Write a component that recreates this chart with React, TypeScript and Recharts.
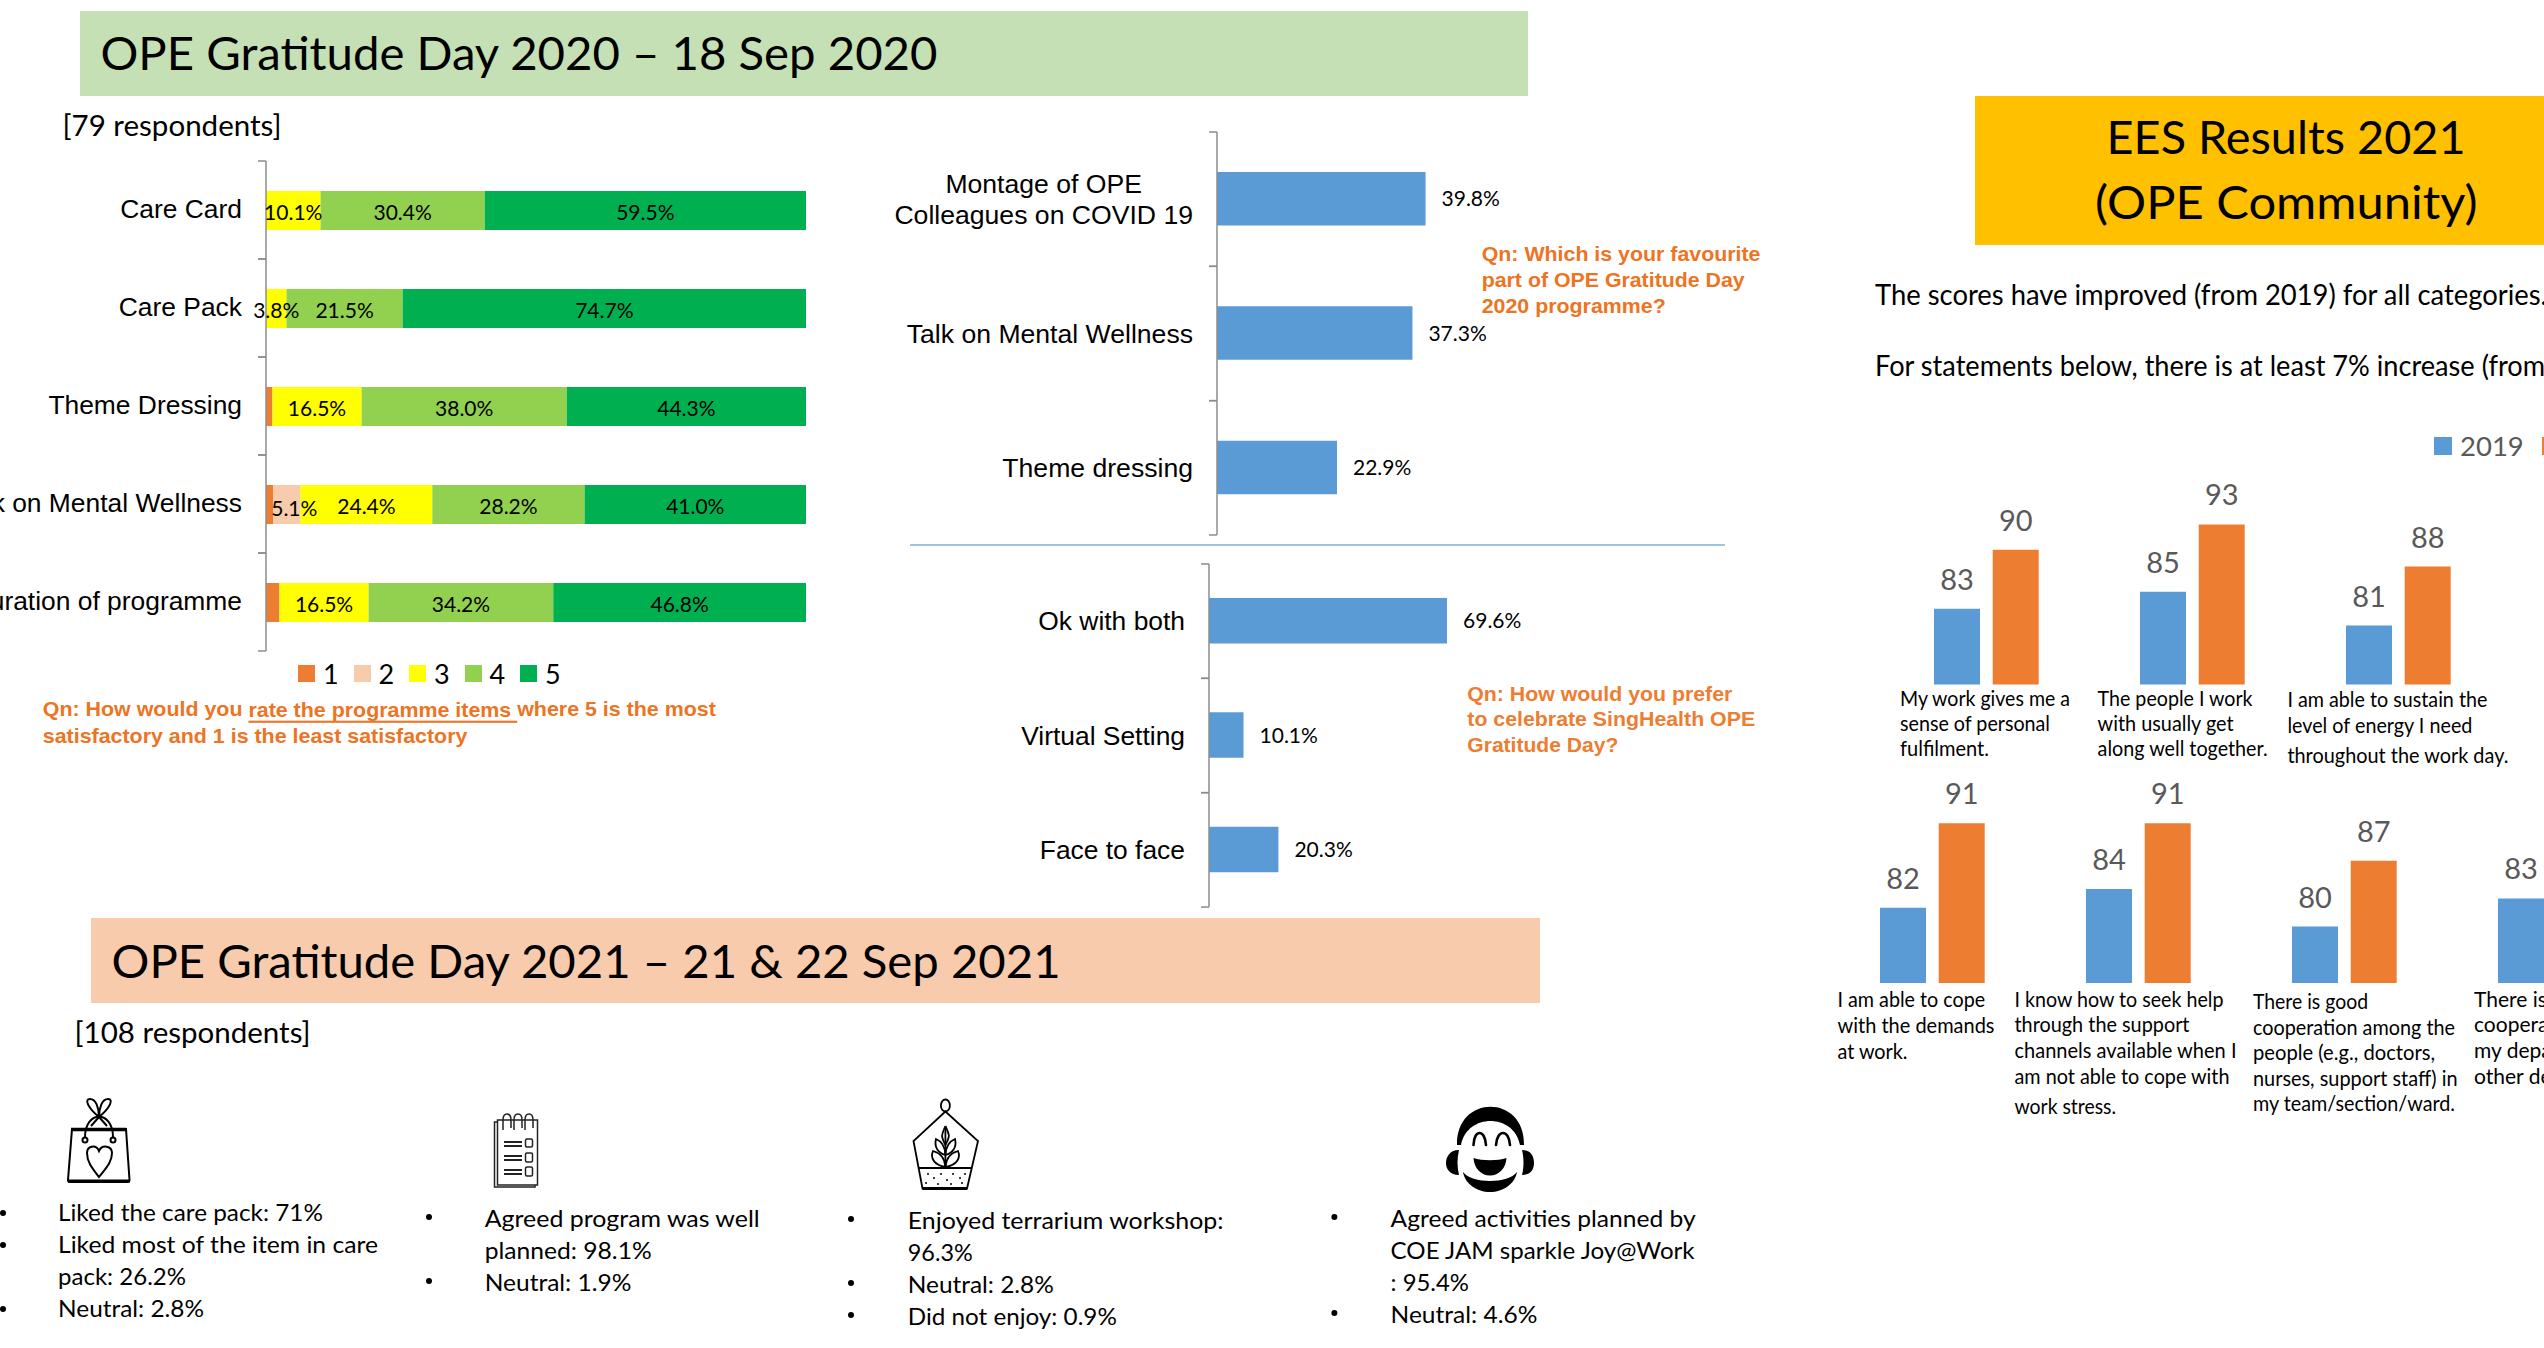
import React from 'react';
import { BarChart, Bar, XAxis, YAxis, LabelList, Legend } from 'recharts';

// ---- data ----
const ratingItems = ['Care Card', 'Care Pack', 'Theme Dressing', 'Talk on Mental Wellness', 'Duration of programme'];
const rating1 = [0, 0, 1.2, 1.3, 2.5];
const rating2 = [0, 0, 0, 5.1, 0];
const rating3 = [10.1, 3.8, 16.5, 24.4, 16.5];
const rating4 = [30.4, 21.5, 38.0, 28.2, 34.2];
const rating5 = [59.5, 74.7, 44.3, 41.0, 46.8];

const favouriteItems = ['Montage of OPE\nColleagues on COVID 19', 'Talk on Mental Wellness', 'Theme dressing'];
const favouriteValues = [39.8, 37.3, 22.9];

const settingItems = ['Ok with both', 'Virtual Setting', 'Face to face'];
const settingValues = [69.6, 10.1, 20.3];

const eesRow1Items = ['Personal fulfilment', 'Get along well', 'Sustain energy'];
const eesRow1Y2019 = [83, 85, 81];
const eesRow1Y2021 = [90, 93, 88];

const eesRow2Items = ['Cope with demands', 'Seek help', 'Team cooperation', 'Department cooperation'];
const eesRow2Y2019 = [82, 84, 80, 83];
const eesRow2Y2021 = [91, 91, 87, 90];

const ratingTable = ratingItems.map((name, i) => ({
  name, r1: rating1[i], r2: rating2[i], r3: rating3[i], r4: rating4[i], r5: rating5[i],
}));
const favouriteTable = favouriteItems.map((name, i) => ({ name, value: favouriteValues[i] }));
const settingTable = settingItems.map((name, i) => ({ name, value: settingValues[i] }));
const eesRow1Table = eesRow1Items.map((name, i) => ({ name, y2019: eesRow1Y2019[i], y2021: eesRow1Y2021[i] }));
const eesRow2Table = eesRow2Items.map((name, i) => ({ name, y2019: eesRow2Y2019[i], y2021: eesRow2Y2021[i] }));

// ---- styles ----
const LATO = 'Lato, sans-serif';
const ARIAL = "'Liberation Sans', Arial, sans-serif";
const BLUE = '#5B9BD5';
const ORANGE = '#ED7D31';
const AXIS = '#8c8c8c';
const QN = '#ED7422';

const pct = (v: any) => `${Number(v).toFixed(1)}%`;

const boundaryTick = (band: number, size: number, blockWidth = 0, dy = -1.2) => (props: any) => {
  const { x, y, payload } = props;
  const lines = String(payload.value).split('\n');
  const lh = size * 1.15;
  const multi = lines.length > 1;
  return (
    <g>
      <line x1={x + 16} x2={x + 24} y1={y - band / 2} y2={y - band / 2} stroke={AXIS} strokeWidth={1.5} />
      <line x1={x + 16} x2={x + 24} y1={y + band / 2} y2={y + band / 2} stroke={AXIS} strokeWidth={1.5} />
      {lines.map((l: string, i: number) => (
        <text
          key={l}
          x={multi ? x - blockWidth / 2 : x}
          y={y + dy + (i - (lines.length - 1) / 2) * lh}
          textAnchor={multi ? 'middle' : 'end'}
          dominantBaseline="central"
          fontFamily={ARIAL}
          fontSize={size}
          fill="#000"
        >
          {l}
        </text>
      ))}
    </g>
  );
};

const stackLabel = (dx = 0, dy = 0.8) => (props: any) => {
  const { x, y, width, height, value } = props;
  if (!value) return null;
  return (
    <text
      x={x + width / 2 + dx}
      y={y + height / 2 + dy}
      textAnchor="middle"
      dominantBaseline="central"
      fontFamily={LATO}
      fontSize={21}
      fill="#000"
    >
      {pct(value)}
    </text>
  );
};

const ratingLegend = ({ payload }: any) => (
  <div style={{ display: 'flex', fontFamily: LATO, fontSize: 27, color: '#000', lineHeight: '16px' }}>
    {(payload || []).map((p: any) => (
      <div key={p.value} style={{ width: 55.5, display: 'flex', alignItems: 'center' }}>
        <span style={{ width: 17, height: 17, background: p.color, marginRight: 8, display: 'inline-block' }} />
        {p.value}
      </div>
    ))}
  </div>
);

const eesLegend = ({ payload }: any) => (
  <div style={{ display: 'flex', fontFamily: LATO, fontSize: 27.5, color: '#595959', lineHeight: '18px' }}>
    {(payload || []).map((p: any) => (
      <div key={p.value} style={{ width: 108, display: 'flex', alignItems: 'center' }}>
        <span style={{ width: 18, height: 18, background: p.color, marginRight: 8, display: 'inline-block' }} />
        {p.value}
      </div>
    ))}
  </div>
);

const T = ({ x, y, w, s, fill = '#000', f = LATO, b = false, children }: any) => (
  <text
    x={x}
    y={y - 1.3}
    textLength={w}
    lengthAdjust={w ? 'spacingAndGlyphs' : undefined}
    dominantBaseline="central"
    fontFamily={f}
    fontSize={s}
    fontWeight={b ? 700 : 400}
    fill={fill}
    xmlSpace="preserve"
  >
    {children}
  </text>
);

const Bullet = ({ x, y }: any) => <circle cx={x} cy={y} r={3} fill="#000" />;

const abs = (left: number, top: number): React.CSSProperties => ({ position: 'absolute', left, top });

const hBarLabelStyle = { fontFamily: LATO, fontSize: 21, fill: '#000' };
const eesLabelStyle = { fontFamily: LATO, fontSize: 29, fill: '#595959' };

const soilDots = [[928, 1174], [934, 1178], [941, 1174], [947, 1180], [953, 1174], [960, 1178], [965, 1174], [926, 1183], [938, 1184], [951, 1184], [962, 1183]];

export default function App() {
  return (
    <div style={{ position: 'absolute', left: 0, top: 0, width: 2544, height: 1348, overflow: 'hidden', background: '#fff' }}>
      {/* stacked ratings */}
      <div style={abs(0, 150)}>
        <BarChart width={830} height={560} data={ratingTable} layout="vertical" barSize={39} margin={{ top: 11, right: 24, left: 0, bottom: 59 }}>
          <XAxis type="number" hide domain={[0, 100]} />
          <YAxis type="category" dataKey="name" width={266} tickSize={8} tickMargin={16} tickLine={false} axisLine={{ stroke: AXIS, strokeWidth: 1.5 }} tick={boundaryTick(98, 26.4)} interval={0} />
          <Legend layout="horizontal" verticalAlign="middle" align="center" content={ratingLegend} wrapperStyle={{ left: 298, top: 515, width: 300 }} />
          <Bar dataKey="r1" name="1" stackId="a" fill={ORANGE} isAnimationActive={false} />
          <Bar dataKey="r2" name="2" stackId="a" fill="#F8CBAD" isAnimationActive={false}>
            <LabelList dataKey="r2" content={stackLabel(7.5, 3)} />
          </Bar>
          <Bar dataKey="r3" name="3" stackId="a" fill="#FFFF00" isAnimationActive={false}>
            <LabelList dataKey="r3" content={stackLabel()} />
          </Bar>
          <Bar dataKey="r4" name="4" stackId="a" fill="#92D050" isAnimationActive={false}>
            <LabelList dataKey="r4" content={stackLabel()} />
          </Bar>
          <Bar dataKey="r5" name="5" stackId="a" fill="#00B050" isAnimationActive={false}>
            <LabelList dataKey="r5" content={stackLabel()} />
          </Bar>
        </BarChart>
      </div>

      {/* favourite part */}
      <div style={abs(880, 120)}>
        <BarChart width={861} height={430} data={favouriteTable} layout="vertical" barSize={53.5} margin={{ top: 12, right: 0, left: 0, bottom: 15 }}>
          <XAxis type="number" hide domain={[0, 100]} />
          <YAxis type="category" dataKey="name" width={337} tickSize={8} tickMargin={16} tickLine={false} axisLine={{ stroke: AXIS, strokeWidth: 1.5 }} tick={boundaryTick(134.3, 26.6, 298.6, 0.2)} interval={0} />
          <Bar dataKey="value" fill={BLUE} isAnimationActive={false}>
            <LabelList dataKey="value" position="right" offset={16} formatter={pct} style={hBarLabelStyle} />
          </Bar>
        </BarChart>
      </div>

      {/* preferred setting */}
      <div style={abs(880, 553)}>
        <BarChart width={671} height={370} data={settingTable} layout="vertical" barSize={45.5} margin={{ top: 11, right: 0, left: 0, bottom: 16 }}>
          <XAxis type="number" hide domain={[0, 100]} />
          <YAxis type="category" dataKey="name" width={329} tickSize={8} tickMargin={16} tickLine={false} axisLine={{ stroke: AXIS, strokeWidth: 1.5 }} tick={boundaryTick(114.4, 26.4, 0, 0.2)} interval={0} />
          <Bar dataKey="value" fill={BLUE} isAnimationActive={false}>
            <LabelList dataKey="value" position="right" offset={16} formatter={pct} style={hBarLabelStyle} />
          </Bar>
        </BarChart>
      </div>

      {/* EES row 1 */}
      <div style={abs(1883, 425)}>
        <BarChart width={618} height={260} data={eesRow1Table} barSize={46} barGap={12.7} margin={{ top: 40.5, right: 0, left: 0, bottom: 0.5 }}>
          <XAxis dataKey="name" hide />
          <YAxis hide domain={[74, 100]} />
          <Legend layout="horizontal" verticalAlign="middle" align="center" content={eesLegend} wrapperStyle={{ left: 551, top: 12, width: 240 }} />
          <Bar dataKey="y2019" name="2019" fill={BLUE} isAnimationActive={false}>
            <LabelList dataKey="y2019" position="top" offset={19} style={eesLabelStyle} />
          </Bar>
          <Bar dataKey="y2021" name="2021" fill={ORANGE} isAnimationActive={false}>
            <LabelList dataKey="y2021" position="top" offset={19} style={eesLabelStyle} />
          </Bar>
        </BarChart>
      </div>

      {/* EES row 2 */}
      <div style={abs(1828.5, 729)}>
        <BarChart width={824} height={254} data={eesRow2Table} barSize={46} barGap={12.7} margin={{ top: 9.6, right: 0, left: 0, bottom: 0 }}>
          <XAxis dataKey="name" hide />
          <YAxis hide domain={[74, 100]} />
          <Bar dataKey="y2019" name="2019" fill={BLUE} isAnimationActive={false}>
            <LabelList dataKey="y2019" position="top" offset={19} style={eesLabelStyle} />
          </Bar>
          <Bar dataKey="y2021" name="2021" fill={ORANGE} isAnimationActive={false}>
            <LabelList dataKey="y2021" position="top" offset={19} style={eesLabelStyle} />
          </Bar>
        </BarChart>
      </div>

      {/* slide furniture */}
      <svg width={2544} height={1348} style={{ ...abs(0, 0), pointerEvents: 'none' }}>
        <rect x={80} y={11} width={1448} height={85} fill="#C5E0B4" />
        <T x={100.5} y={53.5} w={837} s={46}>OPE Gratitude Day 2020 – 18 Sep 2020</T>
        <T x={62.5} y={126} w={219} s={28}>[79 respondents]</T>

        <T x={42.8} y={710} w={673} s={21} b f={ARIAL} fill={QN}>
          Qn: How would you <tspan textDecoration="underline">rate the programme items </tspan>where 5 is the most
        </T>
        <T x={42.8} y={737} w={424.6} s={21} b f={ARIAL} fill={QN}>satisfactory and 1 is the least satisfactory</T>

        <T x={1481.7} y={254.6} w={278.8} s={21} b f={ARIAL} fill={QN}>Qn: Which is your favourite</T>
        <T x={1481.7} y={280.5} w={263} s={21} b f={ARIAL} fill={QN}>part of OPE Gratitude Day</T>
        <T x={1481.7} y={306.5} w={184} s={21} b f={ARIAL} fill={QN}>2020 programme?</T>

        <line x1={910} x2={1725} y1={545} y2={545} stroke="#9DC3E6" strokeWidth={2} />

        <T x={1467.3} y={694.5} w={265} s={21} b f={ARIAL} fill={ORANGE}>Qn: How would you prefer</T>
        <T x={1467.3} y={720} w={287.8} s={21} b f={ARIAL} fill={ORANGE}>to celebrate SingHealth OPE</T>
        <T x={1467.3} y={745.3} w={151} s={21} b f={ARIAL} fill={ORANGE}>Gratitude Day?</T>

        <rect x={91} y={918} width={1449} height={85} fill="#F8CBAD" />
        <T x={111.6} y={961.7} w={949} s={46}>OPE Gratitude Day 2021 – 21 &amp; 22 Sep 2021</T>
        <T x={74.6} y={1033} w={236} s={28}>[108 respondents]</T>

        {/* bullets */}
        <Bullet x={3} y={1213} /><Bullet x={3} y={1245} /><Bullet x={3} y={1309} />
        <T x={58} y={1213} w={265} s={24}>Liked the care pack: 71%</T>
        <T x={58} y={1245} w={320} s={24}>Liked most of the item in care</T>
        <T x={58} y={1277} w={128} s={24}>pack: 26.2%</T>
        <T x={58} y={1309} w={146} s={24}>Neutral: 2.8%</T>

        <Bullet x={429} y={1217} /><Bullet x={429} y={1281} />
        <T x={484.7} y={1219} w={275} s={24}>Agreed program was well</T>
        <T x={484.7} y={1251} w={167} s={24}>planned: 98.1%</T>
        <T x={484.7} y={1282.7} w={146.7} s={24}>Neutral: 1.9%</T>

        <Bullet x={851} y={1219} /><Bullet x={851} y={1283} /><Bullet x={851} y={1315} />
        <T x={907.8} y={1221} w={315.7} s={24}>Enjoyed terrarium workshop:</T>
        <T x={907.8} y={1252.7} w={65} s={24}>96.3%</T>
        <T x={907.8} y={1285} w={146} s={24}>Neutral: 2.8%</T>
        <T x={907.8} y={1317} w={209} s={24}>Did not enjoy: 0.9%</T>

        <Bullet x={1334.4} y={1217} /><Bullet x={1334.4} y={1313} />
        <T x={1390.6} y={1219} w={305} s={24}>Agreed activities planned by</T>
        <T x={1390.6} y={1251} w={304} s={24}>COE JAM sparkle Joy@Work</T>
        <T x={1390.6} y={1283} w={78.4} s={24}>: 95.4%</T>
        <T x={1390.6} y={1315} w={146.7} s={24}>Neutral: 4.6%</T>

        {/* gift bag icon */}
        <g fill="none" stroke="#000" strokeWidth={2}>
          <path d="M72 1129 L126 1129 L129.5 1180 Q129.5 1182 127 1182 L70 1182 Q68 1182 68 1180 Z" />
          <path d="M71 1129.5 L126 1129.5" strokeWidth={3.5} />
          <path d="M68 1181 L130 1181" strokeWidth={3} />
          <path d="M85 1137 C85 1110 113 1110 113 1137" />
          <circle cx={85} cy={1140} r={2.5} />
          <circle cx={113} cy={1140} r={2.5} />
          <path d="M99 1117 C88 1108 84 1099 90 1099 C96 1099 99 1108 99 1117 C99 1108 102 1099 108 1099 C114 1099 110 1108 99 1117 L91 1126 M99 1117 L107 1126" />
          <path d="M99 1177 C92 1168 87 1162 87 1153 C87 1146 96 1144 99 1151 C102 1144 112 1146 112 1153 C112 1162 106 1168 99 1177 Z" />
        </g>

        {/* notebook icon */}
        <g fill="none" stroke="#222" strokeWidth={1.5}>
          <rect x={497.5} y={1120} width={40} height={65} />
          <path d="M497.5 1122 L494.5 1122 L494.5 1187 L535 1187 L535 1185" />
          <path d="M503 1130 L503 1120 C503 1112 511 1112 511 1120 L511 1128 M514 1130 L514 1120 C514 1112 522 1112 522 1120 L522 1128 M525 1130 L525 1120 C525 1112 533 1112 533 1120 L533 1128" />
          <path d="M504 1142 H522 M504 1146 H522 M504 1156 H522 M504 1160 H522 M504 1170 H522 M504 1174 H522" strokeWidth={2} />
          <rect x={525.5} y={1139} width={7} height={8} rx={1.5} />
          <rect x={525.5} y={1153} width={7} height={9} rx={1.5} />
          <rect x={525.5} y={1167} width={7} height={9} rx={1.5} />
        </g>

        {/* terrarium icon */}
        <g fill="none" stroke="#000" strokeWidth={1.8}>
          <ellipse cx={945.4} cy={1105.5} rx={4.5} ry={6} />
          <path d="M945.4 1111.5 L978 1141 L967 1188.5 L922.5 1188.5 L913.5 1141 Z" />
          <path d="M919 1168 L972 1168" strokeWidth={2.2} />
          <path d="M922.5 1188.5 L967 1188.5" strokeWidth={3} />
          <path d="M945.4 1167 V1128" />
          <path d="M945.4 1127 C941 1137 941 1137 945.4 1146 C950 1137 950 1137 945.4 1127" transform="translate(0 -1)" />
          <path d="M945.4 1155 C938 1153 934 1147 936 1139 C941 1141 945 1146 945.4 1155 M945.4 1155 C953 1153 957 1147 955 1139 C950 1141 946 1146 945.4 1155" />
          <path d="M945.4 1167 C934 1165 930 1158 933 1151 C940 1153 945 1158 945.4 1167 M945.4 1167 C957 1165 961 1158 958 1151 C951 1153 946 1158 945.4 1167" />
          {soilDots.map(([cx, cy]) => (
            <circle key={`${cx}-${cy}`} cx={cx} cy={cy} r={1} fill="#000" stroke="none" />
          ))}
        </g>

        {/* laughing face icon */}
        <g fill="#000">
          <path d="M1457 1145 C1456 1094 1525 1094 1524 1145 L1520 1145 C1514 1113 1467 1113 1461 1145 Z" />
          <path d="M1459 1150 C1449 1150 1446 1158 1446 1163 C1446 1169 1450 1175 1459 1175 C1457 1167 1457 1158 1459 1150 Z" />
          <path d="M1522 1150 C1532 1150 1534 1158 1534 1163 C1534 1169 1531 1175 1522 1175 C1524 1167 1524 1158 1522 1150 Z" />
          <path d="M1473.5 1158 C1482 1161 1498 1161 1506.5 1158 C1506 1168 1499 1175.5 1490 1175.5 C1481 1175.5 1474 1168 1473.5 1158 Z" />
          <path d="M1463 1172 C1472 1184 1508 1184 1517 1172 C1515 1184 1503 1192 1490 1192 C1477 1192 1465 1184 1463 1172 Z" />
        </g>
        <g fill="none" stroke="#000" strokeWidth={2.6} strokeLinecap="round">
          <path d="M1473.5 1145 C1474 1129 1485 1129 1486 1145" />
          <path d="M1496 1145 C1497 1129 1509 1129 1510 1145" />
        </g>

        {/* EES header */}
        <rect x={1975} y={96} width={569} height={149} fill="#FFC000" />
        <T x={2106.6} y={138} w={359} s={46}>EES Results 2021</T>
        <T x={2095} y={202.8} w={382.5} s={46}>(OPE Community)</T>
        <T x={1875} y={295} w={672} s={28}>The scores have improved (from 2019) for all categories.</T>
        <T x={1875} y={366} w={670} s={28}>For statements below, there is at least 7% increase (from</T>

        {/* EES statements row 1 */}
        <T x={1900} y={699} w={170} s={21}>My work gives me a</T>
        <T x={1900} y={724} w={150} s={21}>sense of personal</T>
        <T x={1900} y={749} w={89} s={21}>fulfilment.</T>
        <T x={2097.6} y={699} w={155} s={21}>The people I work</T>
        <T x={2097.6} y={724} w={136} s={21}>with usually get</T>
        <T x={2097.6} y={749} w={170} s={21}>along well together.</T>
        <T x={2287.4} y={699.6} w={200} s={21}>I am able to sustain the</T>
        <T x={2287.4} y={725.5} w={185} s={21}>level of energy I need</T>
        <T x={2287.4} y={756} w={221} s={21}>throughout the work day.</T>

        {/* EES statements row 2 */}
        <T x={1837.5} y={999.7} w={147.6} s={21}>I am able to cope</T>
        <T x={1837.5} y={1025.7} w={157} s={21}>with the demands</T>
        <T x={1837.5} y={1051.7} w={70} s={21}>at work.</T>
        <T x={2014.5} y={999.7} w={209} s={21}>I know how to seek help</T>
        <T x={2014.5} y={1025} w={175} s={21}>through the support</T>
        <T x={2014.5} y={1050.7} w={222} s={21}>channels available when I</T>
        <T x={2014.5} y={1076.7} w={215} s={21}>am not able to cope with</T>
        <T x={2014.5} y={1106.7} w={101.6} s={21}>work stress.</T>
        <T x={2253} y={1001.7} w={115} s={21}>There is good</T>
        <T x={2253} y={1027.7} w={202} s={21}>cooperation among the</T>
        <T x={2253} y={1053} w={182} s={21}>people (e.g., doctors,</T>
        <T x={2253} y={1079} w={204.6} s={21}>nurses, support staff) in</T>
        <T x={2253} y={1104} w={202} s={21}>my team/section/ward.</T>
        <T x={2474} y={999.7} s={21}>There is good</T>
        <T x={2474} y={1025} s={21}>cooperation between</T>
        <T x={2474} y={1051} s={21}>my department and</T>
        <T x={2474} y={1076.7} s={21}>other departments.</T>
      </svg>
    </div>
  );
}
